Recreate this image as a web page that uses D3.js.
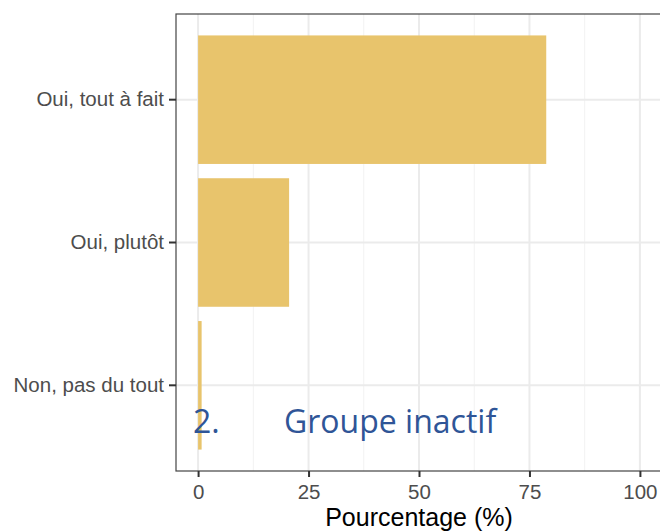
<!DOCTYPE html>
<html>
<head>
<meta charset="utf-8">
<script src="https://cdn.jsdelivr.net/npm/d3@7"></script>
<style>
  body { margin: 0; background: #fff; }
  svg { display: block; }
</style>
</head>
<body>
<svg id="chart" width="660" height="532"></svg>
<script>
// data
var categories = ["Oui, tout à fait", "Oui, plutôt", "Non, pas du tout"];
var values = [78.8, 20.6, 0.8];
var xTicks = [0, 25, 50, 75, 100];
var xMinor = [12.5, 37.5, 62.5, 87.5];
var annotation = ["2.", "Groupe inactif"];

function drawChart() {
  var svg = d3.select("#chart");
  var pLeft = 176, pRight = 662, pTop = 14, pBottom = 471;

  var x = d3.scaleLinear().domain([-5, 105]).range([pLeft, pRight]);
  var y = d3.scaleBand().domain(categories).range([pTop, pBottom])
    .paddingInner(0.1).paddingOuter(0.15);

  var data = categories.map(function(c, i) { return {cat: c, val: values[i]}; });

  // grid
  svg.append("g").selectAll("line").data(xMinor).enter().append("line")
    .attr("x1", d => x(d)).attr("x2", d => x(d))
    .attr("y1", pTop).attr("y2", pBottom)
    .style("stroke", "#F2F2F2").style("stroke-width", 1);
  svg.append("g").selectAll("line").data(xTicks).enter().append("line")
    .attr("x1", d => x(d)).attr("x2", d => x(d))
    .attr("y1", pTop).attr("y2", pBottom)
    .style("stroke", "#EBEBEB").style("stroke-width", 2);
  svg.append("g").selectAll("line").data(categories).enter().append("line")
    .attr("x1", pLeft).attr("x2", pRight)
    .attr("y1", d => y(d) + y.bandwidth() / 2).attr("y2", d => y(d) + y.bandwidth() / 2)
    .style("stroke", "#EBEBEB").style("stroke-width", 2);

  // bars
  svg.append("g").selectAll("rect").data(data).enter().append("rect")
    .attr("x", x(0))
    .attr("y", d => y(d.cat))
    .attr("width", d => x(d.val) - x(0))
    .attr("height", y.bandwidth())
    .style("fill", "#E8C46C");

  // panel border
  svg.append("rect")
    .attr("x", pLeft).attr("y", pTop)
    .attr("width", pRight - pLeft).attr("height", pBottom - pTop)
    .style("fill", "none").style("stroke", "#444").style("stroke-width", 1.2);

  // axes
  var xAxis = svg.append("g")
    .attr("transform", "translate(0," + pBottom + ")")
    .call(d3.axisBottom(x).tickValues(xTicks).tickSize(6).tickPadding(7));
  var yAxis = svg.append("g")
    .attr("transform", "translate(" + pLeft + ",0)")
    .call(d3.axisLeft(y).tickSize(7).tickPadding(5));
  [xAxis, yAxis].forEach(function(a) {
    a.select(".domain").remove();
    a.selectAll(".tick line").style("stroke", "#333").style("stroke-width", 2);
    a.selectAll(".tick text")
      .style("font-family", "Liberation Sans, Arial, sans-serif")
      .style("font-size", "20.5px")
      .style("fill", "#4D4D4D");
  });

  // axis title
  svg.append("text")
    .attr("x", (pLeft + pRight) / 2)
    .attr("y", 526)
    .attr("text-anchor", "middle")
    .style("font-family", "Liberation Sans, Arial, sans-serif")
    .style("font-size", "25px")
    .style("fill", "#000")
    .text("Pourcentage (%)");

  // annotation
  svg.append("text")
    .attr("x", 193).attr("y", 433)
    .style("font-family", "Open Sans, sans-serif")
    .style("font-size", "32px")
    .style("fill", "#2F5597")
    .text(annotation[0]);
  svg.append("text")
    .attr("x", 284).attr("y", 433)
    .style("font-family", "Open Sans, sans-serif")
    .style("font-size", "32px")
    .style("fill", "#2F5597")
    .text(annotation[1]);
}

drawChart();
</script>
</body>
</html>
